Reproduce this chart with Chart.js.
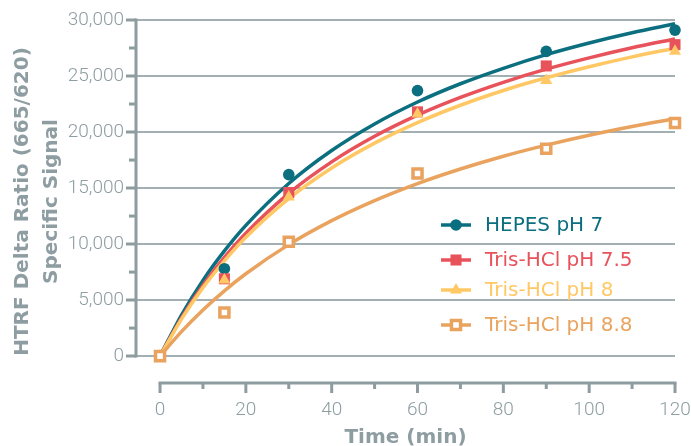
<!DOCTYPE html>
<html>
<head>
<meta charset="utf-8">
<script src="https://cdn.jsdelivr.net/npm/chart.js@4.4.1/dist/chart.umd.min.js"></script>
<style>
  html, body { margin: 0; padding: 0; background: #fff; }
</style>
</head>
<body>
<canvas id="chart" width="691" height="446"></canvas>
<script>
/* ── DATA ──────────────────────────────── */
const SERIES_NAMES = ['HEPES pH 7', 'Tris-HCl pH 7.5', 'Tris-HCl pH 8', 'Tris-HCl pH 8.8'];

// measured points
const TIME_PTS   = [0, 15, 30, 60, 90, 120];
const HEPES_PTS  = [0, 7800, 16200, 23700, 27200, 29100];
const TRIS75_PTS = [0, 6900, 14600, 21800, 25900, 27800];
const TRIS8_PTS  = [0, 6800, 14200, 21600, 24600, 27200];
const TRIS88_PTS = [0, 3900, 10200, 16300, 18500, 20800];

// fitted curves
const TIME_FIT   = [0, 5, 10, 15, 20, 30, 40, 50, 60, 70, 80, 90, 100, 110, 120];
const HEPES_FIT  = [0, 3670, 6760, 9390, 11670, 15410, 18350, 20720, 22680, 24310, 25690, 26910, 27950, 28860, 29660];
const TRIS75_FIT = [0, 3420, 6320, 8810, 10970, 14530, 17340, 19620, 21510, 23090, 24440, 25610, 26620, 27520, 28310];
const TRIS8_FIT  = [0, 3300, 6110, 8510, 10610, 14060, 16790, 19010, 20840, 22390, 23710, 24840, 25830, 26710, 27480];
const TRIS88_FIT = [0, 2190, 4120, 5830, 7350, 9950, 12090, 13880, 15400, 16700, 17840, 18830, 19710, 20490, 21190];

const X_TICKS = [0, 20, 40, 60, 80, 100, 120];
const X_MINOR = [10, 30, 50, 70, 90, 110];
const Y_TICKS = [0, 5000, 10000, 15000, 20000, 25000, 30000];
const Y_MINOR = [2500, 7500, 12500, 17500, 22500, 27500];

/* ── STYLE ─────────────────────────────── */
const FONT      = "'DejaVu Sans', sans-serif";
const TICK_FONT = "Roboto, 'Liberation Sans', sans-serif";
const GREY  = '#8d9da2';
const GRID  = '#a3b0b3';
const AXIS  = '#8e9ca0';

const STYLES = [
  { color: '#0b6f7f', style: 'circle',   radius: 5.8, border: 0, fill: '#0b6f7f' },
  { color: '#e8525a', style: 'rect',     radius: 7.8, border: 0, fill: '#e8525a' },
  { color: '#ffc865', style: 'triangle', radius: 7,   border: 0, fill: '#ffc865' },
  { color: '#e9a35e', style: 'rect',     radius: 6.4, border: 3.5, fill: '#ffffff' },
];
const LEGEND_Y = [225, 260, 290, 325];

const ptsData = [HEPES_PTS, TRIS75_PTS, TRIS8_PTS, TRIS88_PTS];
const fitData = [HEPES_FIT, TRIS75_FIT, TRIS8_FIT, TRIS88_FIT];

const toXY = (xs, ys) => xs.map((x, i) => ({ x, y: ys[i] }));

const datasets = [];
fitData.forEach((d, i) => {
  datasets.push({
    label: SERIES_NAMES[i] + ' fit',
    data: toXY(TIME_FIT, d),
    showLine: true,
    borderColor: STYLES[i].color,
    borderWidth: 3.5,
    pointRadius: 0,
    cubicInterpolationMode: 'monotone',
    fill: false,
    clip: false,
    order: 13 - i,
  });
});
ptsData.forEach((d, i) => {
  const s = STYLES[i];
  datasets.push({
    label: SERIES_NAMES[i],
    data: toXY(TIME_PTS, d),
    showLine: false,
    pointStyle: s.style,
    pointRadius: s.radius,
    pointBorderWidth: s.border,
    pointBorderColor: s.color,
    pointBackgroundColor: s.fill,
    clip: false,
    order: 4 - i,
  });
});

/* ── PLUGINS ───────────────────────────── */
const axisLines = {
  id: 'axisLines',
  beforeDatasetsDraw(chart) {
    const { ctx, chartArea, scales: { x, y } } = chart;
    ctx.save();
    ctx.strokeStyle = AXIS;
    ctx.lineWidth = 3;
    ctx.lineCap = 'butt';

    // y axis
    const yTop = y.getPixelForValue(Y_TICKS[Y_TICKS.length - 1]);
    const yBot = y.getPixelForValue(0);
    ctx.beginPath();
    ctx.moveTo(chartArea.left, yTop - 1.5);
    ctx.lineTo(chartArea.left, yBot + 1.5);
    ctx.stroke();
    Y_MINOR.forEach(v => {
      const py = y.getPixelForValue(v);
      ctx.beginPath();
      ctx.moveTo(chartArea.left - 7, py);
      ctx.lineTo(chartArea.left, py);
      ctx.stroke();
    });

    // x axis (detached below the plot)
    const ax = chartArea.bottom;
    const xl = x.getPixelForValue(X_TICKS[0]);
    const xr = x.getPixelForValue(X_TICKS[X_TICKS.length - 1]);
    ctx.beginPath();
    ctx.moveTo(xl - 1.5, ax);
    ctx.lineTo(xr + 1.5, ax);
    ctx.stroke();
    X_TICKS.forEach(v => {
      const px = x.getPixelForValue(v);
      ctx.beginPath();
      ctx.moveTo(px, ax);
      ctx.lineTo(px, ax + 10);
      ctx.stroke();
    });
    X_MINOR.forEach(v => {
      const px = x.getPixelForValue(v);
      ctx.beginPath();
      ctx.moveTo(px, ax);
      ctx.lineTo(px, ax + 6);
      ctx.stroke();
    });
    ctx.restore();
  }
};

const sideLegend = {
  id: 'sideLegend',
  afterDraw(chart) {
    const { ctx } = chart;
    ctx.save();
    SERIES_NAMES.forEach((name, i) => {
      const s = STYLES[i];
      const ly = LEGEND_Y[i];
      ctx.strokeStyle = s.color;
      ctx.lineWidth = 3.5;
      ctx.beginPath();
      ctx.moveTo(441, ly);
      ctx.lineTo(471, ly);
      ctx.stroke();
      ctx.fillStyle = s.fill;
      ctx.strokeStyle = s.color;
      ctx.lineWidth = s.border;
      Chart.helpers.drawPoint(ctx, {
        pointStyle: s.style, radius: s.radius, borderWidth: s.border, rotation: 0
      }, 456, ly);
      ctx.fillStyle = s.color;
      ctx.font = `20px ${FONT}`;
      ctx.textBaseline = 'middle';
      ctx.textAlign = 'left';
      ctx.fillText(name, 485, ly + 1);
    });
    ctx.restore();
  }
};

/* ── CHART ─────────────────────────────── */
new Chart(document.getElementById('chart'), {
  type: 'scatter',
  data: { datasets },
  options: {
    responsive: false,
    animation: false,
    devicePixelRatio: 1,
    layout: { padding: { top: 20, right: 16, left: 0, bottom: 0 } },
    plugins: { legend: { display: false }, tooltip: { enabled: false } },
    scales: {
      x: {
        type: 'linear',
        min: -5.6, max: 120,
        afterBuildTicks: s => { s.ticks = X_TICKS.map(v => ({ value: v })); },
        afterFit: s => { s.height = 63; s.paddingLeft = 0; s.paddingRight = 0; },
        ticks: {
          stepSize: 20, includeBounds: false, padding: 16,
          color: GREY, font: { family: TICK_FONT, size: 19, weight: 300 }, maxRotation: 0,
        },
        grid: { display: false, drawTicks: false },
        border: { display: false },
        title: {
          display: true, text: 'Time (min)', color: GREY,
          font: { family: FONT, size: 20, weight: 'bold', lineHeight: 1 },
          padding: { top: 0, bottom: -2 },
        },
      },
      y: {
        min: -2400, max: 30000,
        afterBuildTicks: s => { s.ticks = Y_TICKS.map(v => ({ value: v })); },
        afterFit: s => { s.width = 136; },
        ticks: {
          stepSize: 5000, includeBounds: false, padding: 2,
          color: GREY, font: { family: TICK_FONT, size: 19, weight: 300 },
          callback: v => v.toLocaleString('en-US'),
        },
        grid: {
          color: GRID, lineWidth: 2, tickLength: 10,
          tickColor: AXIS, tickWidth: 3,
        },
        border: { display: false },
        title: {
          display: true, text: ['HTRF Delta Ratio (665/620)', 'Specific Signal'], color: GREY,
          font: { family: FONT, size: 20, weight: 'bold', lineHeight: 1.45 },
          padding: { top: 8.5, bottom: 0 },
        },
      },
    },
  },
  plugins: [axisLines, sideLegend],
});
</script>
</body>
</html>
